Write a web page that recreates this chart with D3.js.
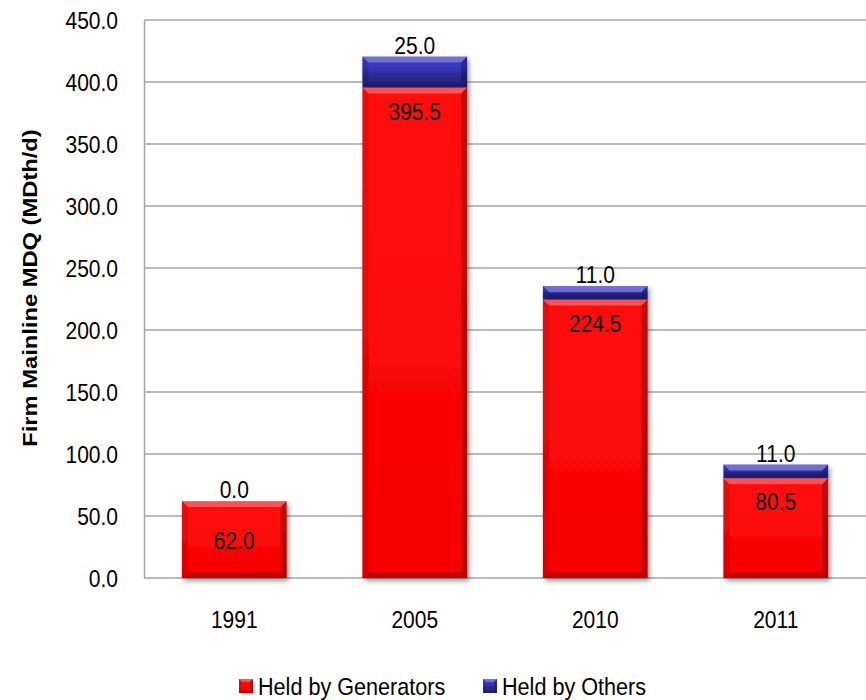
<!DOCTYPE html>
<html><head><meta charset="utf-8">
<script src="https://cdn.jsdelivr.net/npm/d3@7"></script>
<style>body{margin:0;background:#fff;} text{font-family:"Liberation Sans",Arial,sans-serif;}</style>
</head><body>
<svg id="c" width="866" height="700"></svg>
<script>
const categories = ["1991","2005","2010","2011"];
const generators = [62.0, 395.5, 224.5, 80.5];
const others = [0.0, 25.0, 11.0, 11.0];
const yTicks = [0,50,100,150,200,250,300,350,400,450];
const seriesNames = ["Held by Generators","Held by Others"];
const colors = ["#ff0000","#3232b4"];

const svg = d3.select("#c");
const m = {l:144, r:0, t:20, b:122};
const W = 866, H = 700;
const x = d3.scaleBand().domain(categories).range([m.l, W]).paddingInner(0.42).paddingOuter(0.21);
const y = d3.scaleLinear().domain([0,450]).range([H-m.b, m.t]);
const SX = 0.875, FS = 24;

function ntext(g, tx, ty, str, anchor, fs, sx){
  return g.append("text").attr("transform",`translate(${tx},${ty}) scale(${sx||SX},1)`)
    .attr("text-anchor",anchor||"middle").attr("font-size",fs||FS).attr("fill","#000").text(str);
}

const defs = svg.append("defs");
const bg = defs.append("linearGradient").attr("id","blueV").attr("x1",0).attr("x2",0).attr("y1",0).attr("y2",1);
bg.append("stop").attr("offset","0").attr("stop-color","#3c3cc8");
bg.append("stop").attr("offset","0.45").attr("stop-color","#3434b8");
bg.append("stop").attr("offset","0.55").attr("stop-color","#2a2a90");
bg.append("stop").attr("offset","1").attr("stop-color","#262684");
const rg = defs.append("linearGradient").attr("id","redV").attr("x1",0).attr("x2",0).attr("y1",0).attr("y2",1);
rg.append("stop").attr("offset","0").attr("stop-color","#ff1010");
rg.append("stop").attr("offset","1").attr("stop-color","#f80000");
const fills = ["url(#redV)","url(#blueV)"];

const f = defs.append("filter").attr("id","sh").attr("x","-10%").attr("y","-10%").attr("width","130%").attr("height","130%");
f.append("feGaussianBlur").attr("in","SourceAlpha").attr("stdDeviation",2.5);
f.append("feOffset").attr("dx",2).attr("dy",3).attr("result","b");
f.append("feComponentTransfer").append("feFuncA").attr("type","linear").attr("slope",0.4);
const fm = f.append("feMerge"); fm.append("feMergeNode"); fm.append("feMergeNode").attr("in","SourceGraphic");

// grid
svg.append("g").selectAll("line").data(yTicks).join("line")
  .attr("x1",m.l).attr("x2",W).attr("y1",d=>y(d)).attr("y2",d=>y(d))
  .attr("stroke","#a6a6a6").attr("stroke-width",1.5);

// y axis
const ya = svg.append("g").attr("transform",`translate(${m.l},0)`)
  .call(d3.axisLeft(y).tickValues(yTicks).tickFormat(d3.format(".1f")).tickSize(0).tickPadding(26));
ya.select(".domain").attr("stroke","#a6a6a6").attr("stroke-width",1.5);
ya.selectAll(".tick text").each(function(){
  const t = d3.select(this);
  const xx = +t.attr("x");
  t.attr("x", null).attr("dy",null).attr("transform",`translate(${xx},8) scale(${SX},1)`)
   .attr("font-size",FS).attr("fill","#000").style("font-family",'"Liberation Sans",Arial,sans-serif');
});

// x labels
categories.forEach(c=>ntext(svg, x(c)+x.bandwidth()/2, 628, c));

// y title
svg.append("text").attr("transform",`translate(37,288) rotate(-90) scale(1.13,1)`)
  .attr("text-anchor","middle").attr("font-size",21).attr("font-weight","bold").text("Firm Mainline MDQ (MDth/d)");

// bars
const stacks = categories.map((c,i)=>({c, g:generators[i], o:others[i]}));
function bevelRect(g, x0, y0, w, h, idx, bv){
  if(h<=0) return;
  g.append("rect").attr("x",x0).attr("y",y0).attr("width",w).attr("height",h).attr("fill",fills[idx]);
  const b = Math.min(bv||6, h/2);
  g.append("polygon").attr("points",`${x0},${y0} ${x0+w},${y0} ${x0+w-b},${y0+b} ${x0+b},${y0+b}`).attr("fill","#fff").attr("opacity",0.28);
  g.append("polygon").attr("points",`${x0},${y0+h} ${x0+w},${y0+h} ${x0+w-b},${y0+h-b} ${x0+b},${y0+h-b}`).attr("fill","#000").attr("opacity",0.22);
  g.append("polygon").attr("points",`${x0+w},${y0} ${x0+w},${y0+h} ${x0+w-b},${y0+h-b} ${x0+w-b},${y0+b}`).attr("fill","#000").attr("opacity",0.25);
  g.append("polygon").attr("points",`${x0},${y0} ${x0},${y0+h} ${x0+b},${y0+h-b} ${x0+b},${y0+b}`).attr("fill","#000").attr("opacity",0.1);
}
stacks.forEach(s=>{
  const g = svg.append("g").attr("filter","url(#sh)");
  const x0 = x(s.c), w = x.bandwidth();
  const yg = y(s.g), yt = y(s.g+s.o);
  const g2 = g.append("g");
  bevelRect(g2, x0, yg, w, y(0)-yg, 0);
  bevelRect(g2, x0, yt, w, yg-yt, 1);
});
// labels
stacks.forEach(s=>{
  const cx = x(s.c)+x.bandwidth()/2;
  const yg = y(s.g), yt = y(s.g+s.o);
  const ly = s.o===0 ? (yg+y(0))/2+9 : yg+32;
  ntext(svg, cx, ly, d3.format(".1f")(s.g));
  ntext(svg, cx, yt-3, d3.format(".1f")(s.o));
});

// legend
const lx = [239, 483];
seriesNames.forEach((n,i)=>{
  const gg = svg.append("g");
  bevelRect(gg, lx[i], 679, 14, 14, i, 3);
  ntext(svg, lx[i]+19, 695, n, "start", 24, 0.9);
});
</script>
</body></html>
